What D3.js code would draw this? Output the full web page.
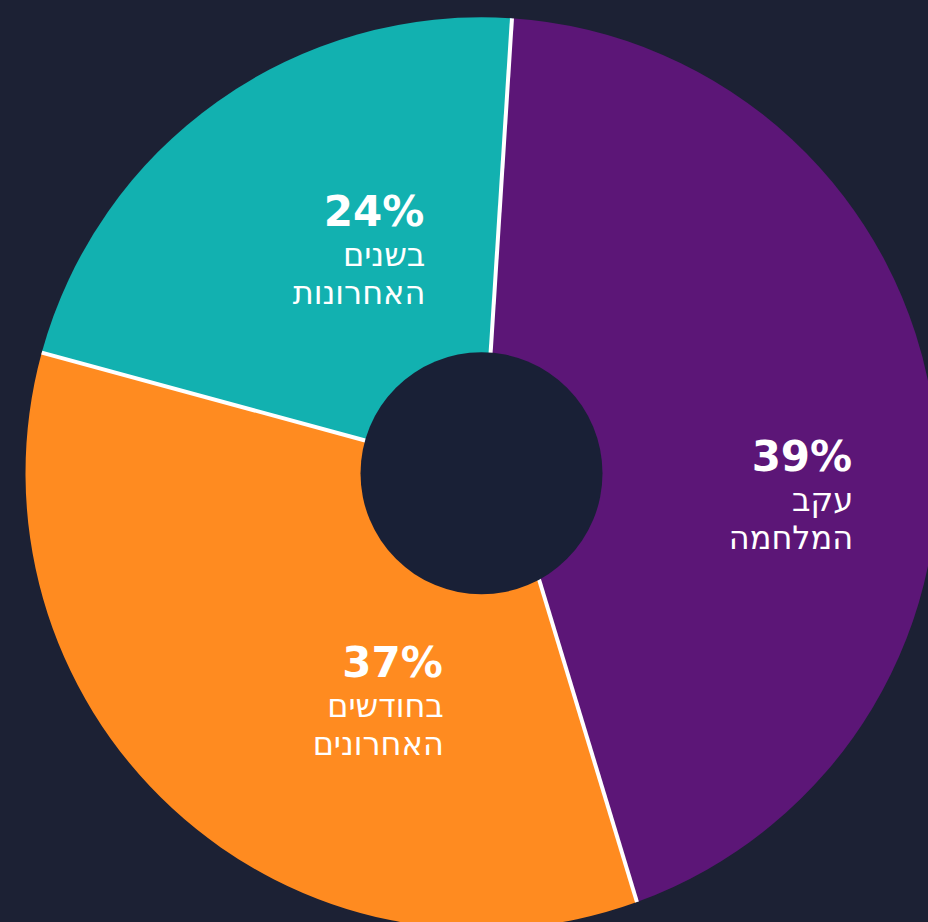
<!DOCTYPE html>
<html lang="he">
<head>
<meta charset="utf-8">
<script src="https://cdn.jsdelivr.net/npm/d3@7"></script>
<style>
  html, body { margin: 0; padding: 0; background: #1c2134; }
  svg { display: block; }
  .pct { font-family: "DejaVu Sans", sans-serif; font-weight: bold; font-size: 42px; fill: #fff; }
  .lbl { font-family: "DejaVu Sans", sans-serif; font-size: 32px; fill: #fff; }
</style>
</head>
<body>
<div class="container"></div>
<script>
const width = 928,
      height = 922;

// slice sizes (share of the circle)
const categories = ["purple", "orange", "teal"];
const sliceValues = [43.4, 34.8, 21.8];
const pctLabels = ["39%", "37%", "24%"];
const textLines = [["עקב", "המלחמה"], ["בחודשים", "האחרונים"], ["בשנים", "האחרונות"]];
const colors = ["#5c1677", "#ff8b20", "#12b1b0"];

// separator lines are not quite radial: angle shift (deg) where each slice's start edge meets the hole
const edgeSkew = [0.5, -8.7, 0.4];

// label shift from the arc centroid (right edge, first baseline)
const labelShift = [[85, 38], [157, -8], [110, -12]];

const cx = 481.5, cy = 473.3;
const outerR = 456, innerR = 121;
const start = 3.83 * Math.PI / 180;
const rad = Math.PI / 180;

const data = categories.map((c, i) => ({
    name: c,
    value: sliceValues[i],
    pct: pctLabels[i],
    lines: textLines[i],
    color: colors[i],
    shift: labelShift[i],
    skew: edgeSkew[i] * rad
}));

const svg = d3.select(".container")
    .append("svg")
    .attr("width", width)
    .attr("height", height);

svg.append("rect")
    .attr("width", width)
    .attr("height", height)
    .attr("fill", "#1c2134");

const g = svg.append("g")
    .attr("transform", `translate(${cx}, ${cy})`);

const pie = d3.pie()
    .value(d => d.value)
    .sort(null)
    .startAngle(start)
    .endAngle(start + 2 * Math.PI);

const arcs = pie(data);
const n = arcs.length;

const pt = (r, a) => [r * Math.sin(a), -r * Math.cos(a)];

const midArc = d3.arc()
    .innerRadius((innerR + outerR) / 2)
    .outerRadius((innerR + outerR) / 2);

function slicePath(d, i) {
    const next = arcs[(i + 1) % n].data.skew;
    const p = d3.path();
    const a = pt(innerR, d.startAngle + d.data.skew);
    const b = pt(outerR, d.startAngle);
    const c = pt(innerR, d.endAngle + next);
    p.moveTo(a[0], a[1]);
    p.lineTo(b[0], b[1]);
    p.arc(0, 0, outerR, d.startAngle - Math.PI / 2, d.endAngle - Math.PI / 2, false);
    p.lineTo(c[0], c[1]);
    p.closePath();
    return p.toString();
}

g.selectAll(".slice")
    .data(arcs)
    .join("path")
    .classed("slice", true)
    .attr("d", slicePath)
    .attr("fill", d => d.data.color);

// white separators between slices
g.selectAll(".sep")
    .data(arcs)
    .join("line")
    .classed("sep", true)
    .attr("x1", d => pt(innerR - 2, d.startAngle + d.data.skew)[0])
    .attr("y1", d => pt(innerR - 2, d.startAngle + d.data.skew)[1])
    .attr("x2", d => pt(outerR, d.startAngle)[0])
    .attr("y2", d => pt(outerR, d.startAngle)[1])
    .attr("stroke", "#fff")
    .attr("stroke-width", 4);

g.append("circle")
    .attr("r", innerR)
    .attr("fill", "#192036");

const labels = g.selectAll(".label")
    .data(arcs)
    .join("g")
    .classed("label", true)
    .attr("transform", d => {
        const c = midArc.centroid(d);
        return `translate(${c[0] + d.data.shift[0]}, ${c[1] + d.data.shift[1]})`;
    });

labels.append("text")
    .classed("pct", true)
    .attr("text-anchor", "end")
    .text(d => d.data.pct);

labels.each(function(d) {
    d3.select(this).selectAll(".lbl")
        .data(d.data.lines)
        .join("text")
        .classed("lbl", true)
        .attr("text-anchor", "end")
        .attr("x", 1)
        .attr("y", (l, i) => 40 + i * 38)
        .text(l => l);
});
</script>
</body>
</html>
